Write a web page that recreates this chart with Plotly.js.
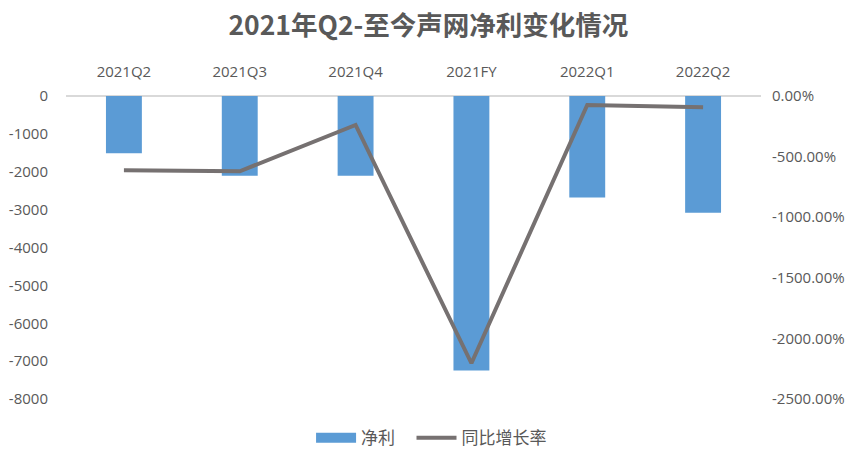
<!DOCTYPE html>
<html><head><meta charset="utf-8">
<script src="https://cdn.plot.ly/plotly-3.0.1.min.js"></script>
<style>html,body{margin:0;padding:0;background:#fff}#chart{width:862px;height:463px}</style>
</head><body><div id="chart"></div>
<script>
const categories = ['2021Q2','2021Q3','2021Q4','2021FY','2022Q1','2022Q2'];
const netProfit = [-1512, -2103, -2103, -7250, -2683, -3080];
const yoyGrowth = [-6.13, -6.21, -2.39, -22.05, -0.74, -0.93];
const leftTickVals = [0,-1000,-2000,-3000,-4000,-5000,-6000,-7000,-8000];
const leftTickText = ['0','-1000','-2000','-3000','-4000','-5000','-6000','-7000','-8000'];
const rightTickVals = [0,-5,-10,-15,-20,-25];
const rightTickText = ['0.00%','-500.00%','-1000.00%','-1500.00%','-2000.00%','-2500.00%'];

const font = 'Open Sans, Noto Sans CJK SC, sans-serif';
const grey = '#595959';
const barColor = '#5B9BD5';
const traces = [
  {type:'bar', x:categories, y:netProfit, name:'净利', marker:{color:barColor}, yaxis:'y', showlegend:false},
  {type:'scatter', mode:'lines', x:categories, y:categories.map(()=>null), name:'净利&nbsp;&nbsp;&nbsp;', line:{color:barColor, width:10}, yaxis:'y', hoverinfo:'skip'},
  {type:'scatter', mode:'lines', x:categories, y:yoyGrowth, name:'同比增长率', line:{color:'#767171', width:4}, yaxis:'y2'}
];
const layout = {
  width:862, height:463,
  margin:{l:66, r:101, t:96, b:64, autoexpand:false},
  paper_bgcolor:'#fff', plot_bgcolor:'#fff',
  title:{text:'<b>2021年Q2-至今声网净利变化情况</b>', font:{family:'Noto Sans CJK SC, sans-serif', size:26.5, color:grey}, x:0.497, xanchor:'center', y:0.945, yanchor:'middle'},
  bargap:0.69,
  xaxis:{side:'top', showgrid:false, showline:false, ticks:'', tickfont:{family:font, size:15, color:grey}, ticklabelstandoff:15},
  yaxis:{range:[-8000,0], tickvals:leftTickVals, ticktext:leftTickText, showgrid:false, zeroline:true, zerolinecolor:'#d9d9d9', zerolinewidth:2, tickfont:{family:font, size:15, color:grey}, ticklabelstandoff:17},
  yaxis2:{range:[-25,0], overlaying:'y', side:'right', tickvals:rightTickVals, ticktext:rightTickText, showgrid:false, zeroline:false, tickfont:{family:font, size:15, color:grey}, ticklabelstandoff:10},
  showlegend:true,
  legend:{orientation:'h', x:0.526, xanchor:'center', y:-0.07, yanchor:'top', font:{family:'Noto Sans CJK SC, sans-serif', size:17, color:grey}, itemwidth:40}
};
Plotly.newPlot('chart', traces, layout, {displayModeBar:false, staticPlot:true});
</script></body></html>
